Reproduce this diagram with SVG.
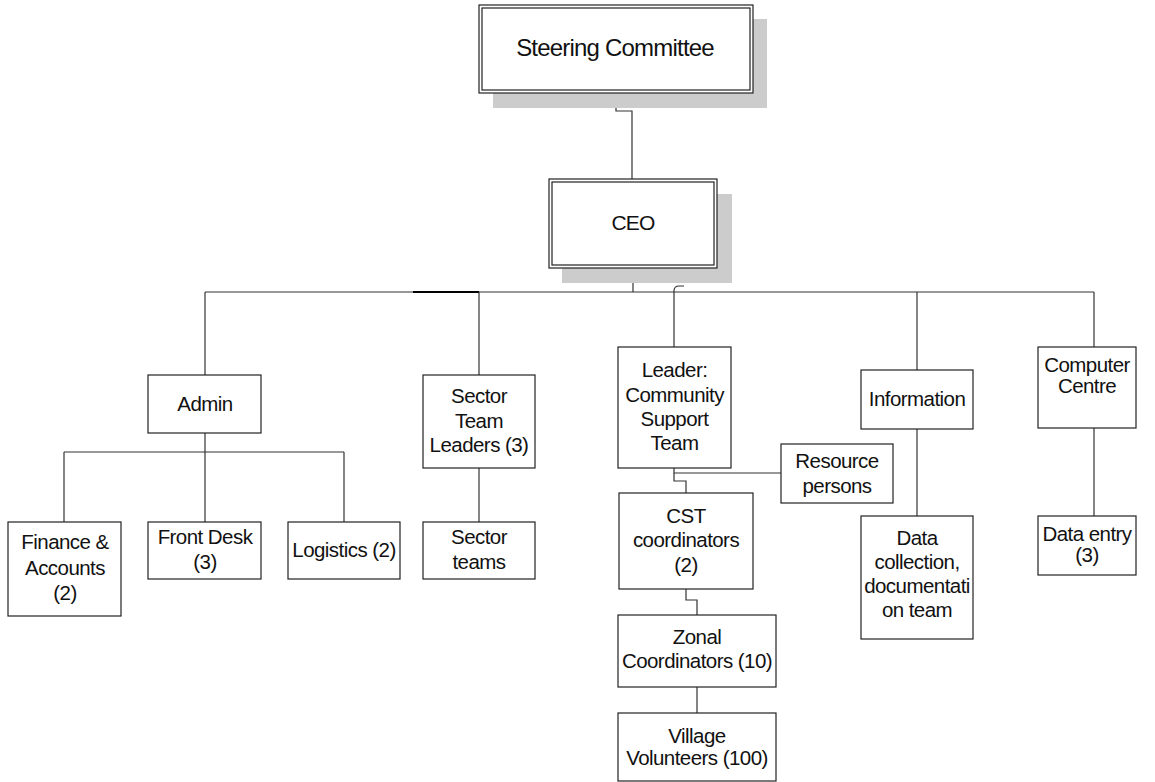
<svg xmlns="http://www.w3.org/2000/svg" width="1155" height="782" viewBox="0 0 1155 782">
<style>
.bg{fill:#ffffff}
.box{fill:#ffffff;stroke:#222222;stroke-width:1.2}
.shadow{fill:#cccccc;stroke:none}
.conn{fill:none;stroke:#333333;stroke-width:1.2}
text{font-family:"Liberation Sans",Arial,sans-serif;font-size:20.5px;letter-spacing:-0.55px;fill:#111111;text-anchor:middle}
</style>
<rect class="bg" x="0" y="0" width="1155" height="782"/>
<g id="connectors">
<path class="conn" d="M616 93 V111 H632 V179"/>
<path class="conn" d="M633 268 V292"/>
<path class="conn" d="M205 292 H1094"/>
<path d="M413 292 H479" stroke="#000000" stroke-width="2" fill="none"/>
<path class="conn" d="M205 292 V375"/>
<path class="conn" d="M479 292 V375"/>
<path class="conn" d="M674 347 V291 Q674 286 679 286 H684"/>
<path class="conn" d="M917 292 V370"/>
<path class="conn" d="M1094 292 V347"/>
<path class="conn" d="M205 433 V452"/>
<path class="conn" d="M64 452 H344"/>
<path class="conn" d="M64 452 V522"/>
<path class="conn" d="M205 452 V522"/>
<path class="conn" d="M344 452 V522"/>
<path class="conn" d="M479 468 V522"/>
<path class="conn" d="M674 468 V473 H781"/>
<path class="conn" d="M674 473 V481 H686 V493"/>
<path class="conn" d="M686 589 V600 H697 V615"/>
<path class="conn" d="M697 687 V713"/>
<path class="conn" d="M917 429 V516"/>
<path class="conn" d="M1094 428 V516"/>
</g>
<g id="steering">
<rect class="shadow" x="493" y="19" width="274" height="89"/>
<rect class="box" x="479" y="5" width="274" height="88"/>
<rect class="box" x="482" y="8" width="268" height="82"/>
<text x="615" y="56" style="font-size:24px;letter-spacing:-0.8px">Steering Committee</text>
</g>
<g id="ceo">
<rect class="shadow" x="562" y="194" width="170" height="89"/>
<rect class="box" x="549" y="179" width="168" height="89"/>
<rect class="box" x="552" y="182" width="162" height="83"/>
<text x="633" y="230" style="font-size:21px;letter-spacing:-0.8px">CEO</text>
</g>
<g id="admin">
<rect class="box" x="148" y="375" width="113" height="58"/>
<text x="205" y="411">Admin</text>
</g>
<g id="finance">
<rect class="box" x="8" y="522" width="113" height="94"/>
<text x="65" y="549">Finance &amp;</text>
<text x="65" y="575">Accounts</text>
<text x="65" y="600">(2)</text>
</g>
<g id="frontdesk">
<rect class="box" x="148" y="522" width="113" height="57"/>
<text x="205" y="544">Front Desk</text>
<text x="205" y="569">(3)</text>
</g>
<g id="logistics">
<rect class="box" x="288" y="522" width="112" height="57"/>
<text x="344" y="557">Logistics (2)</text>
</g>
<g id="sectorleaders">
<rect class="box" x="423" y="375" width="112" height="93"/>
<text x="479" y="403">Sector</text>
<text x="479" y="428">Team</text>
<text x="479" y="452">Leaders (3)</text>
</g>
<g id="sectorteams">
<rect class="box" x="423" y="522" width="112" height="57"/>
<text x="479" y="544">Sector</text>
<text x="479" y="569">teams</text>
</g>
<g id="leader">
<rect class="box" x="618" y="347" width="113" height="121"/>
<text x="674.5" y="377">Leader:</text>
<text x="674.5" y="402">Community</text>
<text x="674.5" y="426">Support</text>
<text x="674.5" y="450">Team</text>
</g>
<g id="resource">
<rect class="box" x="781" y="444" width="112" height="59"/>
<text x="837" y="468">Resource</text>
<text x="837" y="493">persons</text>
</g>
<g id="cst">
<rect class="box" x="619" y="493" width="134" height="96"/>
<text x="686" y="523">CST</text>
<text x="686" y="547">coordinators</text>
<text x="686" y="572">(2)</text>
</g>
<g id="zonal">
<rect class="box" x="618" y="615" width="158" height="72"/>
<text x="697" y="644">Zonal</text>
<text x="697" y="668">Coordinators (10)</text>
</g>
<g id="village">
<rect class="box" x="618" y="713" width="158" height="68"/>
<text x="697" y="743">Village</text>
<text x="697" y="765">Volunteers (100)</text>
</g>
<g id="information">
<rect class="box" x="861" y="370" width="112" height="59"/>
<text x="917" y="406">Information</text>
</g>
<g id="datacollection">
<rect class="box" x="861" y="516" width="112" height="123"/>
<text x="917" y="545">Data</text>
<text x="917" y="569">collection,</text>
<text x="917" y="593">documentati</text>
<text x="917" y="617">on team</text>
</g>
<g id="computer">
<rect class="box" x="1038" y="347" width="98" height="81"/>
<text x="1087" y="372">Computer</text>
<text x="1087" y="393">Centre</text>
</g>
<g id="dataentry">
<rect class="box" x="1038" y="516" width="98" height="59"/>
<text x="1087" y="541">Data entry</text>
<text x="1087" y="562">(3)</text>
</g>
</svg>
